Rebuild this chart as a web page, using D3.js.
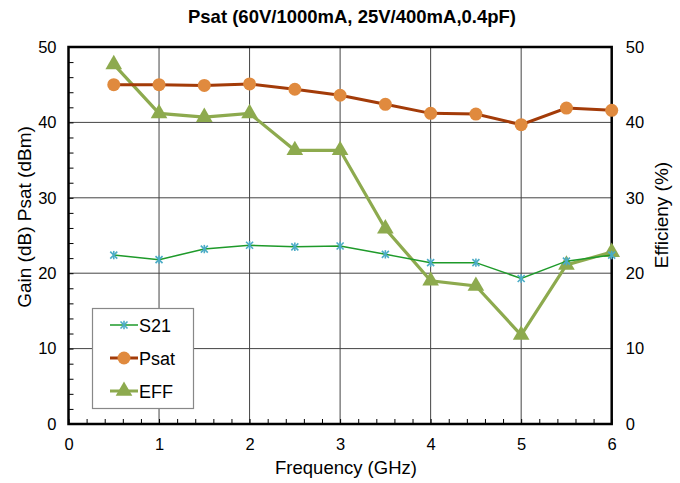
<!DOCTYPE html>
<html><head><meta charset="utf-8">
<script src="https://cdn.jsdelivr.net/npm/d3@7"></script>
<style>body{margin:0;background:#fff}svg{display:block}text{font-family:"Liberation Sans",Arial,sans-serif}</style>
</head><body><svg id="c" width="680" height="483"></svg>
<script>
const freq = [0.5,1,1.5,2,2.5,3,3.5,4,4.5,5,5.5,6];
const s21  = [22.4,21.8,23.2,23.7,23.5,23.6,22.5,21.4,21.4,19.3,21.6,22.4];
const psat = [45.0,45.0,44.9,45.1,44.4,43.6,42.4,41.2,41.1,39.7,41.9,41.6];
const eff  = [47.7,41.2,40.7,41.2,36.3,36.3,25.9,19.0,18.3,11.8,21.1,22.8];
const xTicks = [0,1,2,3,4,5,6];
const yTicks = [0,10,20,30,40,50];
const seriesNames = ["S21","Psat","EFF"];

const svg = d3.select("#c");
const L=68.5,R=611.7,T=47,B=424;
const x = d3.scaleLinear().domain([0,6]).range([L,R]);
const y = d3.scaleLinear().domain([0,50]).range([B,T]);
const y2 = d3.scaleLinear().domain([0,50]).range([B,T]);
const FF = "Liberation Sans, Arial, sans-serif";

// grid
const g = svg.append("g");
g.selectAll(".vg").data(xTicks.slice(1,-1)).enter().append("line")
 .attr("x1",d=>x(d)).attr("x2",d=>x(d)).attr("y1",T).attr("y2",B)
 .attr("stroke","#444").attr("stroke-width",1);
g.selectAll(".hg").data(yTicks.slice(1,-1)).enter().append("line")
 .attr("x1",L).attr("x2",R).attr("y1",d=>y(d)).attr("y2",d=>y(d))
 .attr("stroke","#444").attr("stroke-width",1);

// minor ticks (inside)
svg.append("g").attr("transform",`translate(${L},0)`)
 .call(d3.axisRight(y).tickValues(d3.range(0,50.01,2)).tickSize(5).tickFormat(""))
 .call(a=>a.select(".domain").remove()).selectAll("line").attr("stroke","#000");
svg.append("g").attr("transform",`translate(0,${B})`)
 .call(d3.axisTop(x).tickValues(d3.range(0,6.01,0.2)).tickSize(5).tickFormat(""))
 .call(a=>a.select(".domain").remove()).selectAll("line").attr("stroke","#000");

// frame
svg.append("rect").attr("x",L).attr("y",T).attr("width",R-L).attr("height",B-T)
 .attr("fill","none").attr("stroke","#000").attr("stroke-width",2.5);

// tick labels
function styleAx(a){a.select(".domain").remove();
 a.selectAll("text").attr("font-size",16.5).attr("fill","#000").attr("font-family",FF);}
svg.append("g").attr("transform",`translate(${L},0)`)
 .call(d3.axisLeft(y).tickValues(yTicks).tickSize(0).tickPadding(12)).call(styleAx);
svg.append("g").attr("transform",`translate(${R},0)`)
 .call(d3.axisRight(y2).tickValues(yTicks).tickSize(0).tickPadding(14)).call(styleAx);
svg.append("g").attr("transform",`translate(0,${B})`)
 .call(d3.axisBottom(x).tickValues(xTicks).tickFormat(d3.format("d")).tickSize(0).tickPadding(14)).call(styleAx);

// titles
svg.append("text").attr("x",352).attr("y",23).attr("text-anchor","middle")
 .attr("font-size",18.5).attr("font-weight","bold").text("Psat (60V/1000mA, 25V/400mA,0.4pF)");
svg.append("text").attr("x",346).attr("y",474).attr("text-anchor","middle")
 .attr("font-size",18.5).text("Frequency (GHz)");
svg.append("text").attr("transform","translate(31,217) rotate(-90)").attr("text-anchor","middle")
 .attr("font-size",19).text("Gain (dB) Psat (dBm)");
svg.append("text").attr("transform","translate(668,215) rotate(-90)").attr("text-anchor","middle")
 .attr("font-size",19).text("Efficieny (%)");

// series
const line = d3.line().x(d=>x(d[0])).y(d=>y(d[1]));
const line2 = d3.line().x(d=>x(d[0])).y(d=>y2(d[1]));
const dS = freq.map((f,i)=>[f,s21[i]]);
const dP = freq.map((f,i)=>[f,psat[i]]);
const dE = freq.map((f,i)=>[f,eff[i]]);
const cS="#1E9A2A", cSm="#4BACC6", cP="#A33B08", cPm="#E08A3E", cE="#8DAA4E";

function star(sel,cx,cy,s){
  const gg=sel.append("g").attr("transform",`translate(${cx},${cy})`).attr("stroke",cSm).attr("stroke-width",1.6);
  gg.append("line").attr("x1",-s).attr("x2",s).attr("y1",-s).attr("y2",s);
  gg.append("line").attr("x1",-s).attr("x2",s).attr("y1",s).attr("y2",-s);
  gg.append("line").attr("x1",0).attr("x2",0).attr("y1",-s*1.2).attr("y2",s*1.2);
}
const tri = d3.symbol().type(d3.symbolTriangle).size(120);

svg.append("path").attr("d",line2(dE)).attr("fill","none").attr("stroke",cE).attr("stroke-width",3.2);
svg.selectAll(".te").data(dE).enter().append("path").attr("d",tri)
 .attr("transform",d=>`translate(${x(d[0])},${y2(d[1])})`).attr("fill",cE);

svg.append("path").attr("d",line(dP)).attr("fill","none").attr("stroke",cP).attr("stroke-width",3);
svg.selectAll(".cp").data(dP).enter().append("circle").attr("cx",d=>x(d[0])).attr("cy",d=>y(d[1]))
 .attr("r",6.5).attr("fill",cPm);

svg.append("path").attr("d",line(dS)).attr("fill","none").attr("stroke",cS).attr("stroke-width",1.5);
dS.forEach(d=>star(svg,x(d[0]),y(d[1]),3.5));

// legend
const lg = svg.append("g");
lg.append("rect").attr("x",92.5).attr("y",308.5).attr("width",101).attr("height",100)
 .attr("fill","#fff").attr("stroke","#888").attr("stroke-width",1.2);
const ly = [325,358,391];
seriesNames.forEach((n,i)=>{
  const c=[cS,cP,cE][i];
  lg.append("line").attr("x1",110).attr("x2",138).attr("y1",ly[i]).attr("y2",ly[i])
    .attr("stroke",c).attr("stroke-width",i==0?1.5:3);
  if(i==0) star(lg,124,ly[i],3.5);
  if(i==1) lg.append("circle").attr("cx",124).attr("cy",ly[i]).attr("r",6.5).attr("fill",cPm);
  if(i==2) lg.append("path").attr("d",tri).attr("transform",`translate(124,${ly[i]})`).attr("fill",cE);
  lg.append("text").attr("x",139).attr("y",ly[i]+6.5).attr("font-size",18).text(n);
});
</script></body></html>
